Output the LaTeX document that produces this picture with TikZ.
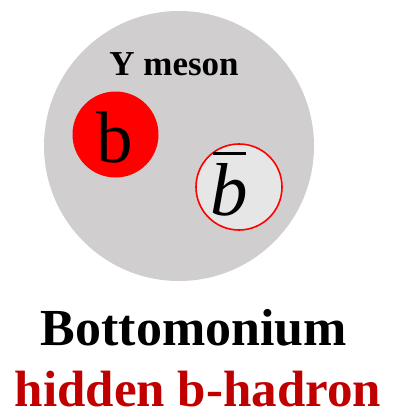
\documentclass[tikz,border=0pt]{standalone}
\usepackage{fontspec}
\setmainfont{Liberation Serif}
\definecolor{mesongray}{HTML}{D0CECF}
\definecolor{antigray}{HTML}{E6E6E6}
\definecolor{quarkred}{HTML}{FF0000}
\definecolor{labelred}{HTML}{C00000}
\begin{document}
\begin{tikzpicture}[x=1pt,y=-1pt,
  lbl/.style={inner sep=0pt,anchor=base},
  quark/.style={circle,inner sep=0pt,minimum size=#1}]
\useasboundingbox (0,0) rectangle (395,412);
\fill[mesongray] (179,146) circle[radius=135];
\node[quark=86, fill=quarkred] (q) at (115.5,134.5) {};
\node[quark=86, fill=antigray, draw=quarkred, line width=1.6pt] (aq) at (239,187) {};
\node[lbl] (title) at (174,75) {\fontsize{35}{35}\selectfont\bfseries Y meson};
\node[lbl] (bq) at (115,162) {\fontsize{73}{73}\selectfont b};
\node[lbl] (bbar) at (229,215) {\fontsize{75}{75}\selectfont\itshape\rlap{\hspace{0.04em}\raisebox{0.8em}{\rule{0.44em}{3pt}}}b};
\node[lbl] (name) at (194,345) {\fontsize{52}{52}\selectfont\bfseries Bottomonium};
\node[lbl, text=labelred] (kind) at (198,406) {\fontsize{51}{51}\selectfont\bfseries hidden b-hadron};
\end{tikzpicture}
\end{document}
